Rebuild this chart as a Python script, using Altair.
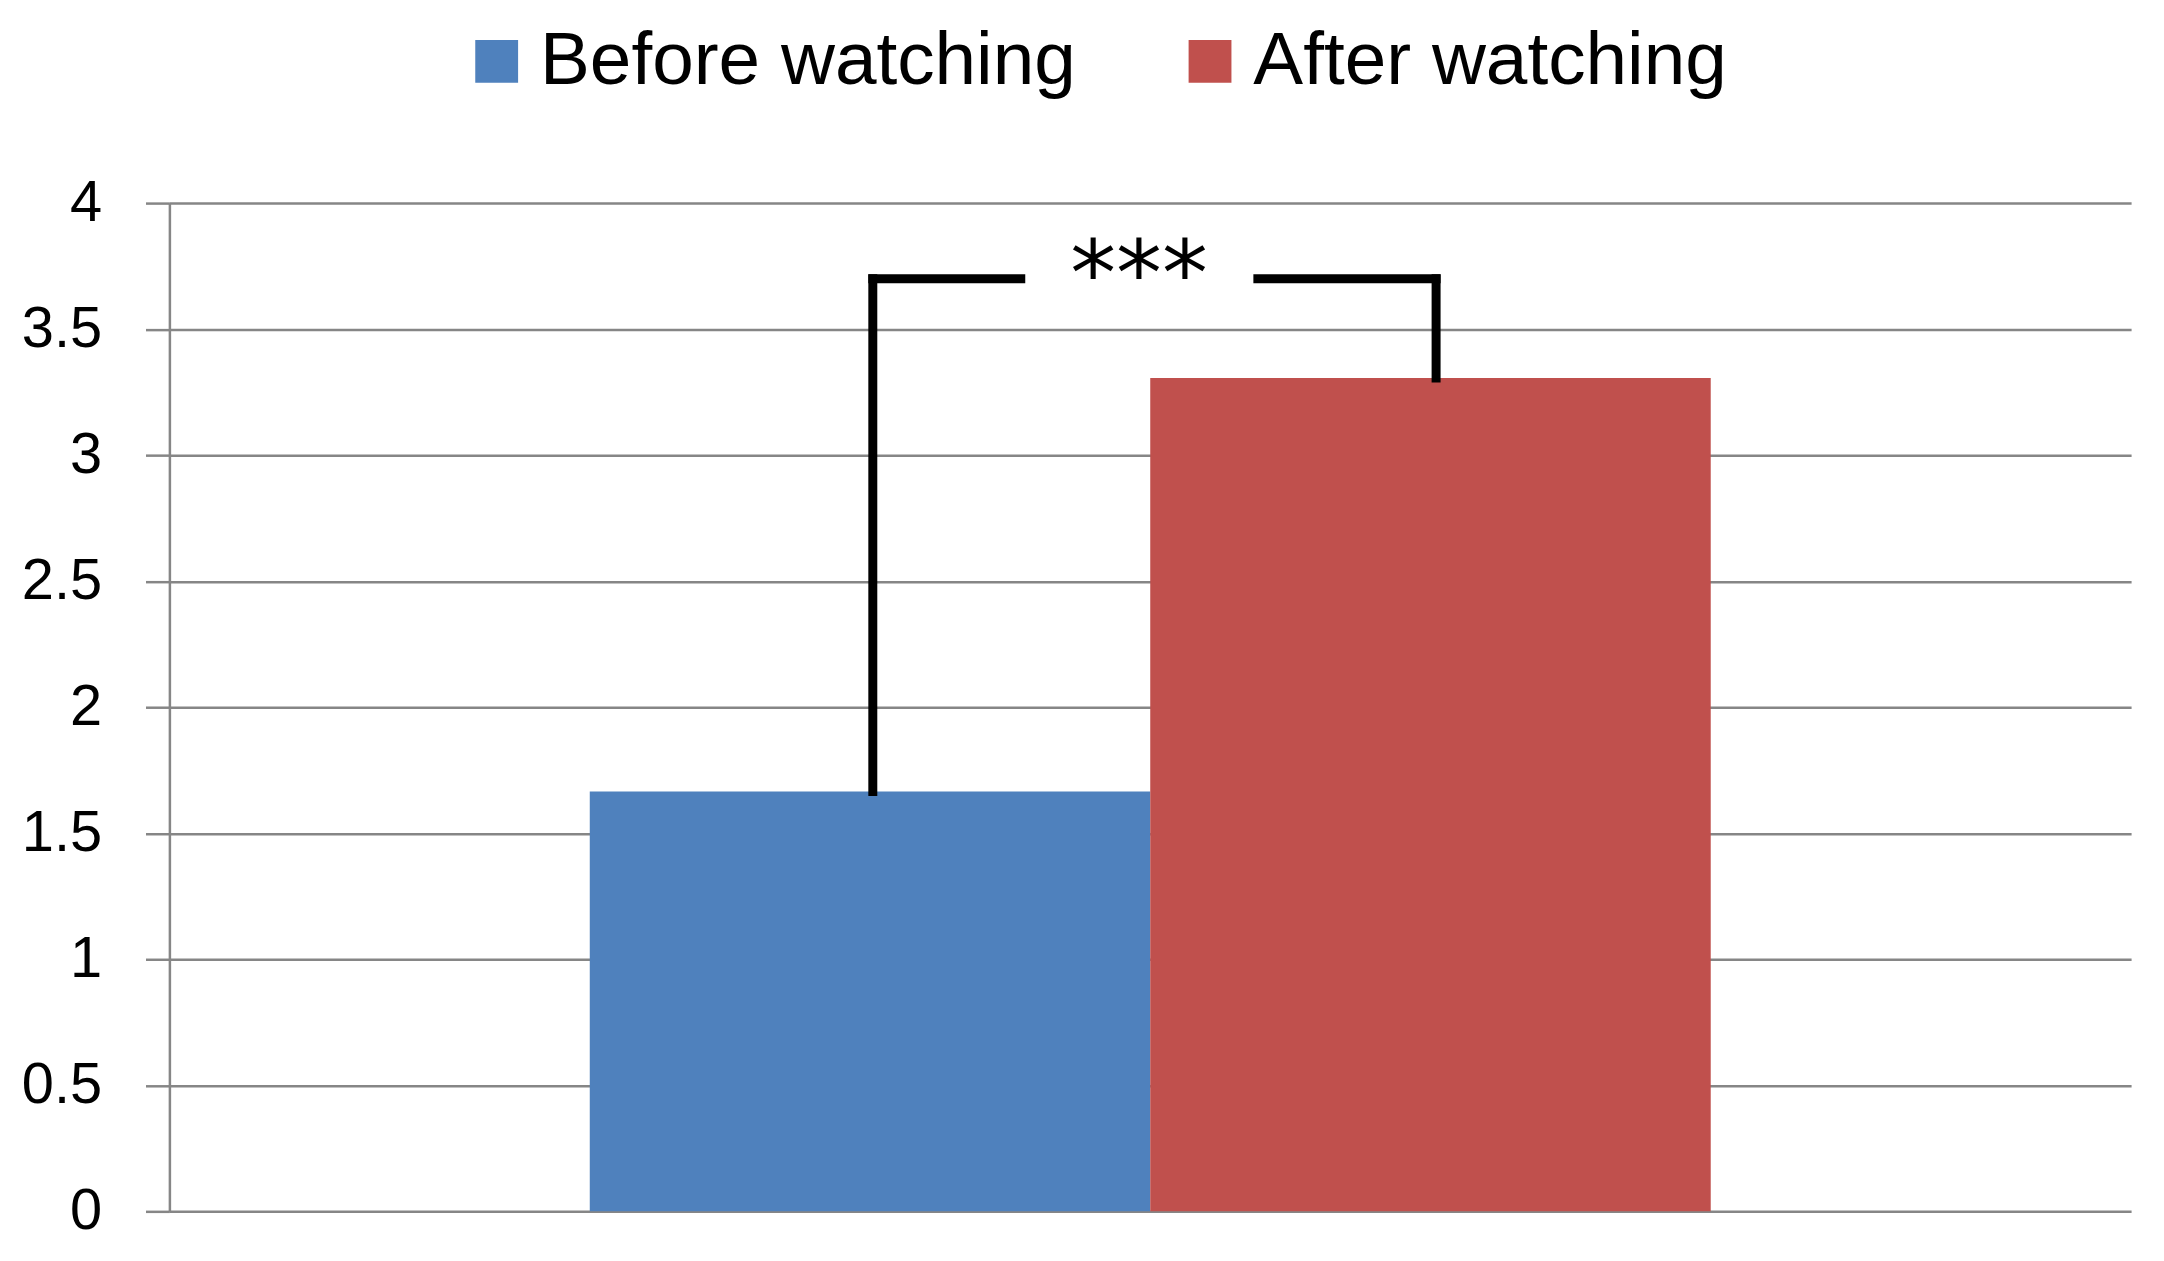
import altair as alt
import pandas as pd

# ---- data ----
groups = ["Before watching", "After watching"]
means = [1.666, 3.306]
colors = ["#4F81BD", "#C0504D"]
y_ticks = [0, 0.5, 1, 1.5, 2, 2.5, 3, 3.5, 4]

bracket_y = 3.70
sig_label = "***"
sig_label_y = 3.595

bars_df = pd.DataFrame({"group": groups, "mean": means})
left_v_df = pd.DataFrame({"g": [groups[0]], "top": [means[0]], "bracket": [bracket_y]})
right_v_df = pd.DataFrame({"g": [groups[1]], "top": [means[1]], "bracket": [bracket_y]})
left_df = pd.DataFrame({"g": [groups[0]], "bracket": [bracket_y]})
right_df = pd.DataFrame({"g": [groups[1]], "bracket": [bracket_y]})
text_df = pd.DataFrame({"g": [groups[0]], "label": [sig_label], "y": [sig_label_y]})

xscale = alt.Scale(type="band", domain=groups, paddingInner=0, paddingOuter=0.75)
yscale = alt.Scale(domain=[0, 4], nice=False, zero=True)
yaxis = alt.Axis(values=y_ticks, format="~g", title=None)

bars = alt.Chart(bars_df).mark_bar().encode(
    x=alt.X("group:N", scale=xscale, axis=None, sort=groups),
    y=alt.Y("mean:Q", scale=yscale, axis=yaxis),
    color=alt.Color(
        "group:N",
        scale=alt.Scale(domain=groups, range=colors),
        legend=alt.Legend(
            orient="none", legendX=291, legendY=-180, direction="horizontal",
            title=None, symbolType="square", symbolSize=1849, symbolStrokeWidth=0,
            symbolOpacity=1, labelFont="Liberation Sans", labelFontSize=75,
            labelColor="black", labelOffset=6, columnPadding=97, labelLimit=0,
            padding=0,
        ),
    ),
)

rule_style = dict(color="black", strokeWidth=9, strokeCap="square")

left_v = alt.Chart(left_v_df).mark_rule(**rule_style).encode(
    x=alt.X("g:N", scale=xscale, axis=None, bandPosition=0.505),
    y=alt.Y("top:Q", scale=yscale, axis=yaxis),
    y2="bracket:Q",
)

right_v = alt.Chart(right_v_df).mark_rule(**rule_style).encode(
    x=alt.X("g:N", scale=xscale, axis=None, bandPosition=0.51),
    y=alt.Y("top:Q", scale=yscale, axis=yaxis),
    y2="bracket:Q",
)

left_h = alt.Chart(left_df).mark_rule(**rule_style).encode(
    x=alt.X("g:N", scale=xscale, axis=None, bandPosition=0.505),
    x2=alt.X2("g:N", bandPosition=0.769),
    y=alt.Y("bracket:Q", scale=yscale, axis=yaxis),
)

right_h = alt.Chart(right_df).mark_rule(**rule_style).encode(
    x=alt.X("g:N", scale=xscale, axis=None, bandPosition=0.192),
    x2=alt.X2("g:N", bandPosition=0.51),
    y=alt.Y("bracket:Q", scale=yscale, axis=yaxis),
)

stars = alt.Chart(text_df).mark_text(
    font="DejaVu Sans", fontSize=92, color="black", align="center", baseline="alphabetic"
).encode(
    x=alt.X("g:N", scale=xscale, axis=None, bandPosition=0.98),
    y=alt.Y("y:Q", scale=yscale, axis=yaxis),
    text="label:N",
)

chart = (
    alt.layer(bars, left_v, right_v, left_h, right_h, stars)
    .properties(
        width=1969,
        height=1012,
        autosize=alt.AutoSizeParams(type="none"),
        padding={"left": 162, "top": 193.5, "right": 25, "bottom": 40},
        background="white",
    )
    .configure_view(stroke=None)
    .configure_axisY(
        domainColor="#868686", domainWidth=2.5,
        tickColor="#868686", tickWidth=2.5, tickSize=24,
        gridColor="#868686", gridWidth=2.5, gridOpacity=1,
        labelFont="Liberation Sans", labelFontSize=58, labelColor="black",
        labelPadding=44,
    )
)

chart.save("out.html", embed_options={"renderer": "svg", "actions": False})
